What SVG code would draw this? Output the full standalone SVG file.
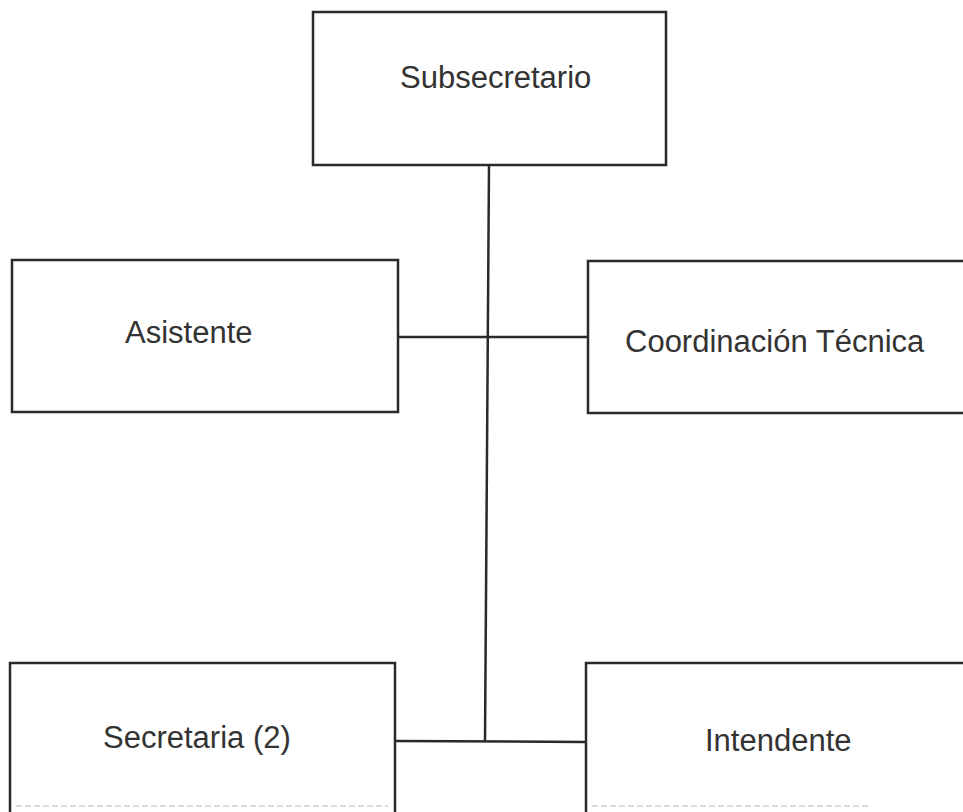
<svg xmlns="http://www.w3.org/2000/svg" width="963" height="812" viewBox="0 0 963 812">
<style>
.box{fill:#fff;stroke:#2a2a2a;stroke-width:2.5}
.lbl{font-family:"Liberation Sans",Arial,sans-serif;font-size:31px;fill:#333}
.conn{stroke:#2a2a2a;stroke-width:2.5;fill:none}
.faint{stroke:#cfcfcf;stroke-width:1.5;stroke-dasharray:6 3;fill:none}
</style>
<rect width="963" height="812" fill="#fff"/>
<g id="connectors">
<line class="conn" x1="489" y1="165" x2="485" y2="741"/>
<line class="conn" x1="398" y1="337" x2="588" y2="337"/>
<line class="conn" x1="395" y1="741" x2="586" y2="742"/>
</g>
<g id="subsecretario">
<rect class="box" x="313" y="12" width="353" height="153"/>
<text class="lbl" x="400" y="88">Subsecretario</text>
</g>
<g id="asistente">
<rect class="box" x="12" y="260" width="386" height="152"/>
<text class="lbl" x="125" y="343">Asistente</text>
</g>
<g id="coordinacion">
<rect class="box" x="588" y="261" width="390" height="152"/>
<text class="lbl" x="625" y="352">Coordinación Técnica</text>
</g>
<g id="secretaria">
<rect class="box" x="10" y="663" width="385" height="170"/>
<text class="lbl" x="103" y="748">Secretaria (2)</text>
<line class="faint" x1="16" y1="806" x2="388" y2="806"/>
</g>
<g id="intendente">
<rect class="box" x="586" y="663" width="392" height="170"/>
<text class="lbl" x="705" y="751">Intendente</text>
<line class="faint" x1="592" y1="806" x2="870" y2="806"/>
</g>
</svg>
